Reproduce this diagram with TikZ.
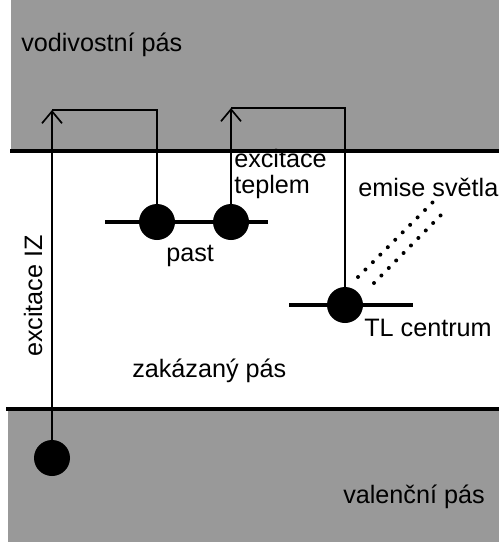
\documentclass[tikz,border=0pt]{standalone}
\usepackage{fontspec}
\setmainfont{Liberation Sans}
\usetikzlibrary{arrows.meta}
\definecolor{bandgray}{HTML}{999999}
\tikzset{
  band/.style={fill=bandgray, draw=none},
  edge/.style={line width=2.6pt},
  level/.style={line width=2.4pt},
  dot/.style={circle, fill=black, minimum size=27pt, inner sep=0pt},
  conn/.style={line width=1.25pt},
  uparrow/.style={conn, -{Straight Barb[length=9pt,width=15pt,line width=1.25pt]}},
  lbl/.style={font=\fontsize{18.9}{22}\selectfont, anchor=base west, inner sep=0pt, text=black},
  emis/.style={line width=3pt, line cap=round, dash pattern=on 0pt off 7.9pt}
}
\begin{document}
\begin{tikzpicture}[x=0.75pt,y=-0.75pt]
\useasboundingbox (0,0) rectangle (499,542);
% bands
\fill[band] (11,0) rectangle (499,151);
\fill[band] (8,409) rectangle (499,542);
\draw[edge] (10,151) -- (499,151);
\draw[edge] (6,409) -- (499,409);
% levels
\draw[level] (105,222) -- (268,222);
\draw[level] (289,305) -- (413,305);
% dots
\node[dot] (vb) at (52,458) {};
\node[dot] (t1) at (157,222) {};
\node[dot] (t2) at (231,222) {};
\node[dot] (tl) at (345,305) {};
% corner coordinates
\coordinate (a1) at (52,110);
\coordinate (c1) at (157,110);
\coordinate (a2) at (231,108);
\coordinate (c2) at (345,108);
% connectors
\draw[uparrow] (vb) -- (a1);
\draw[conn] (a1) -- (c1) -- (t1);
\draw[uparrow] (t2) -- (a2);
\draw[conn] (a2) -- (c2) -- (tl);
% light emission
\coordinate (e1s) at (358,277);
\coordinate (e1e) at (433,202);
\coordinate (e2s) at (374,283);
\coordinate (e2e) at (442,214);
\draw[emis] (e1s) -- (e1e);
\draw[emis] (e2s) -- (e2e);
% labels
\node[lbl] (lcb) at (21,52) {vodivostní pás};
\node[lbl] (lex1) at (234,167) {excitace};
\node[lbl] (lex2) at (234,193) {teplem};
\node[lbl] (lem) at (358,196) {emise světla};
\node[lbl] (lpast) at (166,261) {past};
\node[lbl] (ltl) at (364,336) {TL centrum};
\node[lbl] (lzp) at (132,377) {zakázaný pás};
\node[lbl] (lvb) at (343,503) {valenční pás};
\node[lbl, anchor=base, rotate=90] (liz) at (42,296) {excitace IZ};
\end{tikzpicture}
\end{document}
